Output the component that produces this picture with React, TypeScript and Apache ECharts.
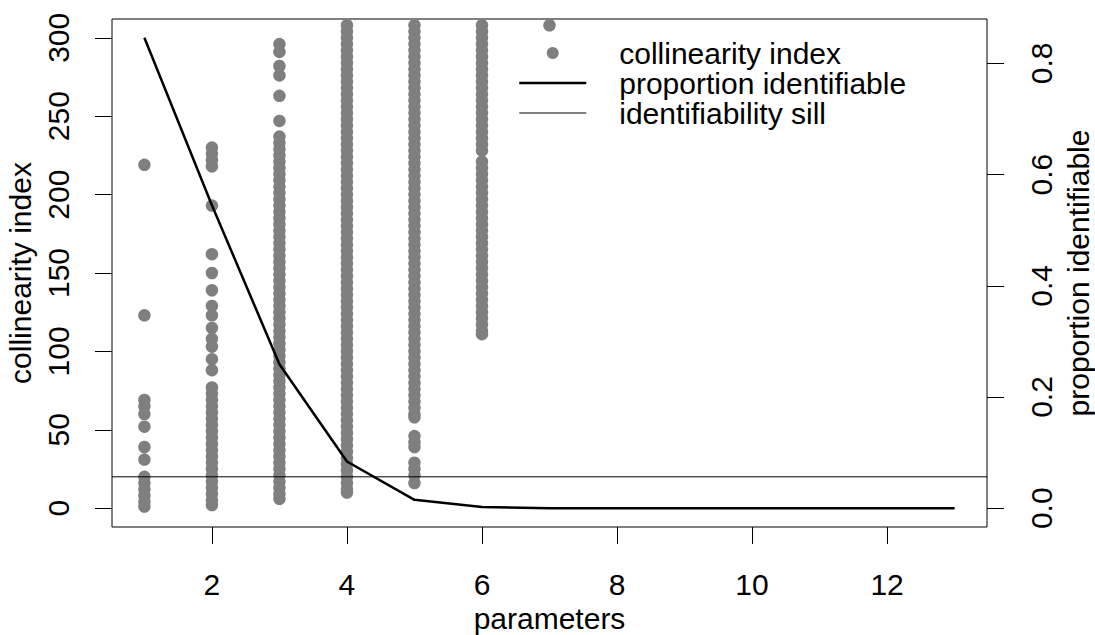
import React, { useEffect, useRef } from "react";
import * as echarts from "echarts";

// ---- data ----
const X_TICKS = [2, 4, 6, 8, 10, 12];
const Y_LEFT_TICKS = [0, 50, 100, 150, 200, 250, 300];
const Y_RIGHT_TICKS = [0, 0.2, 0.4, 0.6, 0.8];

// collinearity index values per number of parameters (visible part of each column)
const ci1 = [219, 123, 69, 65, 60, 52, 39, 31, 20, 16, 12, 8, 4, 1];
const ci2 = [230, 226, 222, 218, 193, 162, 150, 139, 129, 123, 115, 108, 103, 95, 88, 77, 73, 69, 65, 61, 57, 53, 49, 45, 41, 37, 33, 29, 25, 21, 17, 13, 9, 5, 2];
const ci3 = [296, 291, 282, 276, 263, 247, 237, 233, 229, 225, 221, 217, 213, 209, 205, 201, 197, 193, 189, 185, 181, 177, 173, 169, 165, 161, 157, 153, 149, 145, 141, 137, 133, 129, 125, 121, 117, 113, 109, 105, 101, 97, 93, 89, 85, 81, 77, 73, 69, 65, 61, 57, 53, 49, 45, 41, 37, 33, 29, 25, 21, 17, 13, 9, 6];
const ci4 = [308, 304, 300, 296, 292, 288, 284, 280, 276, 272, 268, 264, 260, 256, 252, 248, 244, 240, 236, 232, 228, 224, 220, 216, 212, 208, 204, 200, 196, 192, 188, 184, 180, 176, 172, 168, 164, 160, 156, 152, 148, 144, 140, 136, 132, 128, 124, 120, 116, 112, 108, 104, 100, 96, 92, 88, 84, 80, 76, 72, 68, 64, 60, 56, 52, 48, 44, 40, 36, 32, 28, 24, 20, 16, 12, 10];
const ci5 = [308, 304, 300, 296, 292, 288, 284, 280, 276, 272, 268, 264, 260, 256, 252, 248, 244, 240, 236, 232, 228, 224, 220, 216, 212, 208, 204, 200, 196, 192, 188, 184, 180, 176, 172, 168, 164, 160, 156, 152, 148, 144, 140, 136, 132, 128, 124, 120, 116, 112, 108, 104, 100, 96, 92, 88, 84, 80, 76, 72, 68, 64, 60, 58, 46, 42, 39, 29, 25, 21, 16];
const ci6 = [308, 304, 300, 296, 292, 288, 284, 280, 276, 272, 268, 264, 260, 256, 252, 248, 244, 240, 236, 232, 228, 221, 217, 213, 209, 205, 201, 197, 193, 189, 185, 181, 177, 173, 169, 165, 161, 157, 153, 149, 145, 141, 137, 133, 129, 125, 121, 117, 113, 111];
const ci7 = [308];
const CI_BY_PARAMS: [number, number[]][] = [
  [1, ci1], [2, ci2], [3, ci3], [4, ci4], [5, ci5], [6, ci6], [7, ci7],
];

const PARAMS = [1, 2, 3, 4, 5, 6, 7, 8, 9, 10, 11, 12, 13];
const PROP_IDENTIFIABLE = [0.846, 0.545, 0.259, 0.084, 0.015, 0.002, 0, 0, 0, 0, 0, 0, 0];
const SILL = 20;

// axis extents (R style 4% expansion)
const X_MIN = 0.52;
const X_MAX = 13.48;
const YL_MIN = -12;
const YL_MAX = 312;
const YR_MIN = -0.0338;
const YR_MAX = 0.8798;

const FONT = "'Liberation Sans', Arial, sans-serif";
const GREY = "#7f7f7f";
const FS = 30;

export default function App() {
  const ref = useRef<HTMLDivElement>(null);

  useEffect(() => {
    if (!ref.current) return;
    const chart = echarts.init(ref.current, undefined, { renderer: "svg" });

    const scatterData: number[][] = [];
    CI_BY_PARAMS.forEach(([p, vals]) => vals.forEach((v) => scatterData.push([p, v])));
    const lineData = PARAMS.map((p, i) => [p, PROP_IDENTIFIABLE[i]]);
    const sillData = [[X_MIN, SILL], [X_MAX, SILL]];

    const textBase = { fontFamily: FONT, fontSize: FS, color: "#000" };
    const tick = { show: true, length: 17, inside: false, lineStyle: { color: "#000", width: 1 } };

    chart.setOption({
      animation: false,
      backgroundColor: "#fff",
      textStyle: { fontFamily: FONT },
      grid: {
        left: 112,
        top: 19,
        right: 108,
        bottom: 108,
        show: true,
        borderColor: "#000",
        borderWidth: 1,
        backgroundColor: "transparent",
        containLabel: false,
        outerBoundsMode: "none",
      },
      legend: {
        orient: "vertical",
        left: 518,
        top: 38,
        padding: 0,
        itemWidth: 67,
        itemHeight: 12,
        itemGap: 0,
        selectedMode: false,
        textStyle: { ...textBase, padding: [0, 0, 0, 28] },
        data: [
          { name: "collinearity index" },
          { name: "proportion identifiable", itemStyle: { opacity: 0 }, lineStyle: { width: 2.5, color: "#000" } },
          { name: "identifiability sill", itemStyle: { opacity: 0 }, lineStyle: { width: 1, color: "#000" } },
        ],
      },
      xAxis: {
        type: "value",
        min: X_MIN,
        max: X_MAX,
        name: "parameters",
        nameLocation: "middle",
        nameGap: 75,
        nameTextStyle: textBase,
        axisLine: { show: false, onZero: false },
        splitLine: { show: false },
        axisTick: { ...tick, customValues: X_TICKS },
        axisLabel: { ...textBase, margin: 42, customValues: X_TICKS },
      },
      yAxis: [
        {
          type: "value",
          position: "left",
          min: YL_MIN,
          max: YL_MAX,
          name: "collinearity index",
          nameLocation: "middle",
          nameGap: 71,
          nameTextStyle: textBase,
          axisLine: { show: false, onZero: false },
          splitLine: { show: false },
          axisTick: { ...tick, customValues: Y_LEFT_TICKS },
          axisLabel: { ...textBase, margin: 39, rotate: 90, customValues: Y_LEFT_TICKS },
        },
        {
          type: "value",
          position: "right",
          min: YR_MIN,
          max: YR_MAX,
          name: "proportion identifiable",
          nameLocation: "middle",
          nameGap: 73,
          nameTextStyle: textBase,
          axisLine: { show: false, onZero: false },
          splitLine: { show: false },
          axisTick: { ...tick, customValues: Y_RIGHT_TICKS },
          axisLabel: {
            ...textBase,
            margin: 39,
            rotate: 90,
            customValues: Y_RIGHT_TICKS,
            formatter: (v: number) => v.toFixed(1),
          },
        },
      ],
      series: [
        {
          name: "collinearity index",
          type: "scatter",
          xAxisIndex: 0,
          yAxisIndex: 0,
          data: scatterData,
          symbol: "circle",
          symbolSize: 12.5,
          itemStyle: { color: GREY, opacity: 1 },
          silent: true,
          z: 2,
        },
        {
          name: "proportion identifiable",
          type: "line",
          xAxisIndex: 0,
          yAxisIndex: 1,
          data: lineData,
          symbol: "none",
          showSymbol: false,
          lineStyle: { color: "#000", width: 2.5 },
          itemStyle: { color: "#000" },
          silent: true,
          z: 4,
        },
        {
          name: "identifiability sill",
          type: "line",
          xAxisIndex: 0,
          yAxisIndex: 0,
          data: sillData,
          symbol: "none",
          showSymbol: false,
          lineStyle: { color: "#000", width: 1 },
          itemStyle: { color: "#000" },
          silent: true,
          z: 3,
        },
      ],
    });

    return () => chart.dispose();
  }, []);

  return (
    <div
      ref={ref}
      style={{ position: "absolute", left: 0, top: 0, width: 1095, height: 635, background: "#fff" }}
    />
  );
}
